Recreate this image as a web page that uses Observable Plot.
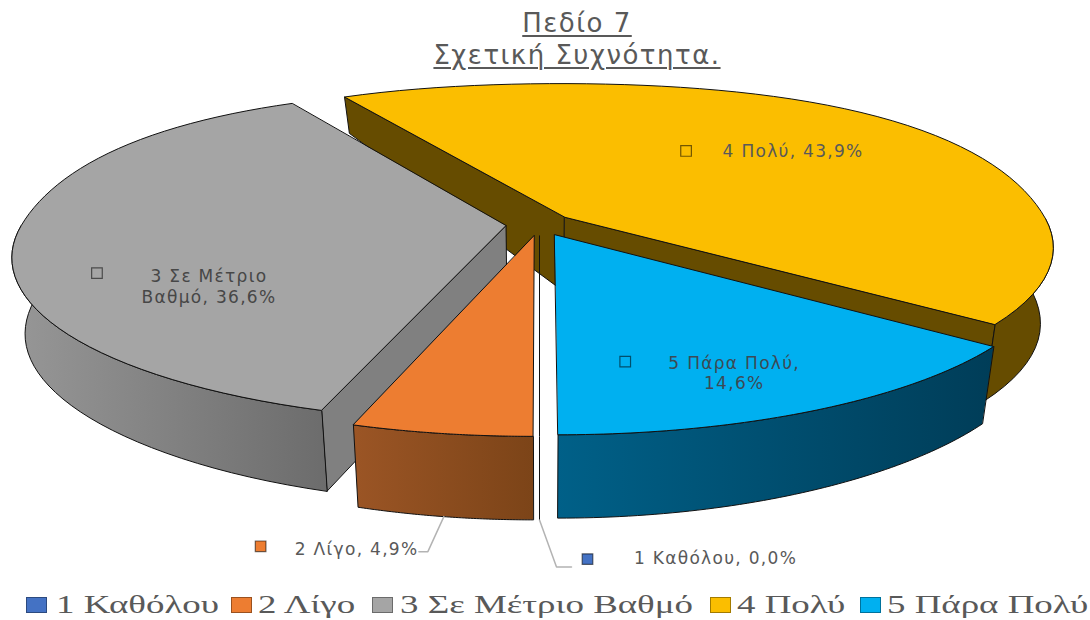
<!DOCTYPE html>
<html><head><meta charset="utf-8">
<script src="https://cdn.jsdelivr.net/npm/d3@7"></script>
<script src="https://cdn.jsdelivr.net/npm/@observablehq/plot@0.6"></script>
<style>
html,body{margin:0;padding:0;background:#fff;width:1090px;height:620px;overflow:hidden}
#title{height:72px;box-sizing:border-box;padding-top:7px;text-align:center;color:#595959;font:26px/32px "DejaVu Sans";letter-spacing:1.5px;margin-left:64px;text-decoration:underline;text-decoration-thickness:2px;text-underline-offset:3px}
#legend{position:relative;height:40px;font:26px "Liberation Serif";color:#595959}
#legend .k{position:absolute;top:17px;width:19px;height:14px;border:1.5px solid rgba(0,0,0,.35);box-sizing:content-box}
#legend .t{position:absolute;top:10px;white-space:nowrap;transform:scaleX(1.42);transform-origin:left center}
svg text{letter-spacing:1.3px}
</style></head><body>
<div id="title">Πεδίο 7<br>Σχετική Συχνότητα.</div>
<div id="chart"></div>
<div id="legend"></div>
<script>
const categories = ["1 Καθόλου","2 Λίγο","3 Σε Μέτριο Βαθμό","4 Πολύ","5 Πάρα Πολύ"];
const percents   = [0, 4.9, 36.6, 43.9, 14.6];
const topColors  = ["#4472c4","#ed7d31","#a5a5a5","#fbbe00","#00b0f0"];
const labelTexts = ["1 Καθόλου, 0,0%","2 Λίγο, 4,9%","3 Σε Μέτριο\nΒαθμό, 36,6%","4 Πολύ, 43,9%","5 Πάρα Πολύ,\n14,6%"];
const legendSwatchX = [26,231,372,710,860];
const legendTextX   = [56,258,400,737,887];

const cx=539, cy=224, A=484, B=160, K=0.18, EXPLODE=0.07, BOTTOM=0.975, BULGE=0.035;
const arcs = d3.pie().sort(null).startAngle(Math.PI).endAngle(3*Math.PI)(percents);
function project(th, r, mid, lower){
  const rr = r*(1+(Math.cos(th)>0 ? BULGE*Math.sin(2*th)**2 : 0));
  const X = rr*Math.sin(th)+EXPLODE*Math.sin(mid), Z = rr*Math.cos(th)+EXPLODE*Math.cos(mid);
  const s = 1/(1+K*Z);
  let x = cx + A*X*s, y = cy - B*Z*s;
  if(lower){ x = cx+(x-cx)*BOTTOM; y += 75-8.59*Z-19.2*Z*Z-17.42*Z*Z*Z; }
  return {x,y};
}
const rimAngles = (a,b) => d3.range(0,61).map(i=>a+(b-a)*i/60);
const walls = d => {
  const m=(d.startAngle+d.endAngle)/2;
  const side = th => [project(0,0,m,false),project(th,1,m,false),project(th,1,m,true),project(0,0,m,true)];
  const all=rimAngles(d.startAngle,d.endAngle);
  const front=all.filter(t=>Math.cos(t)<0.03);
  return {
    start: Math.sin(d.startAngle)<-1e-6 ? side(d.startAngle) : null,
    end:   Math.sin(d.endAngle)>1e-6 ? side(d.endAngle) : null,
    outer:[...front.map(t=>project(t,1,m,false)),...front.slice().reverse().map(t=>project(t,1,m,true))],
    top:[project(0,0,m,false),...all.map(t=>project(t,1,m,false))]};
};
const strokeOpts={stroke:"#111",strokeWidth:1,curve:"linear-closed",x:"x",y:"y"};
const face=(pts,fill)=>Plot.line(pts,{...strokeOpts,fill});
const grad=(id,a,b)=>`<linearGradient id="${id}" x1="0" x2="1" y1="0" y2="0"><stop offset="0" stop-color="${a}"/><stop offset="1" stop-color="${b}"/></linearGradient>`;
const defs=()=>{const g=document.createElementNS("http://www.w3.org/2000/svg","defs");
  g.innerHTML=grad("gGray","#979797","#6c6c6c")+grad("gOrange","#9b5525","#7c4418")+grad("gBlue","#006088","#003d58");return g;};
const wallFill=["#264478","url(#gOrange)","url(#gGray)","#664c00","url(#gBlue)"];
const radialFill=["#264478","#7c4418","#808080","#664c00","#003d58"];
const W=arcs.map(walls);
const slice=i=>[W[i].start&&face(W[i].start,radialFill[i]),W[i].end&&face(W[i].end,radialFill[i]),face(W[i].outer,wallFill[i]),face(W[i].top,topColors[i])].filter(Boolean);

const labelAt=(i,r,dx,dy)=>{const a=arcs[i],m=(a.startAngle+a.endAngle)/2,p=project(m,r,m,false);return {x:p.x+dx,y:p.y+dy};};
const labelRows=[
 {i:3,...labelAt(3,.63,13,-3),sx:-107,dyS:0},
 {i:2,...labelAt(2,.62,6,49),sx:-112,dyS:-13},
 {i:4,...labelAt(4,.82,-28,-1),sx:-109,dyS:-11},
 {i:1,...labelAt(1,1.55,-14,-36),sx:-96,dyS:-2},
 {i:0,...labelAt(0,1.62,176,-56),sx:-128,dyS:2}
];
const textRows=labelRows.map(d=>({x:d.x,y:d.y,text:labelTexts[d.i],color:d.i===2?"#474747":d.i===4?"#3c4a55":"#595959"}));
const dotRows=labelRows.map(d=>({x:d.x+d.sx,y:d.y+d.dyS,fill:topColors[d.i]}));
const leader=(i,rA,dxB,dyB,dxC)=>{const a=arcs[i],m=(a.startAngle+a.endAngle)/2;const p=project(m,rA,m,true);
  return [p,{x:p.x+dxB,y:p.y+dyB},{x:p.x+dxB+dxC,y:p.y+dyB}];};

const chart=Plot.plot({
  width:1090,height:508,margin:0,
  x:{domain:[0,1090],range:[0,1090],axis:null},
  y:{domain:[72,580],range:[0,508],axis:null},
  style:{background:"transparent",overflow:"visible"},
  marks:[
    defs,
    ...slice(3),...slice(2),...slice(4),
    Plot.line([project(arcs[0].startAngle,0,arcs[0].startAngle,false),project(arcs[0].startAngle,1,arcs[0].startAngle,false),project(arcs[0].startAngle,1,arcs[0].startAngle,true)],{x:"x",y:"y",stroke:"#111",strokeWidth:1}),
    ...slice(1),
    Plot.line(leader(1,1,-16,35,-9),{x:"x",y:"y",stroke:"#b3b3b3",strokeWidth:1.5}),
    Plot.line(leader(0,1,17,47,15),{x:"x",y:"y",stroke:"#b3b3b3",strokeWidth:1.5}),
    Plot.dot(dotRows,{x:"x",y:"y",symbol:"square",r:6,fill:"fill",stroke:"#000",strokeOpacity:.55,strokeWidth:1.2}),
    Plot.text(textRows,{x:"x",y:"y",text:"text",fill:"color",fontSize:17,fontFamily:"DejaVu Sans",lineHeight:1.2})
  ]
});
document.getElementById("chart").appendChild(chart);
const lg=d3.select("#legend");
categories.forEach((c,i)=>{
  lg.append("div").attr("class","k").style("left",legendSwatchX[i]+"px").style("background",topColors[i]);
  lg.append("div").attr("class","t").style("left",legendTextX[i]+"px").text(c);
});
</script></body></html>
